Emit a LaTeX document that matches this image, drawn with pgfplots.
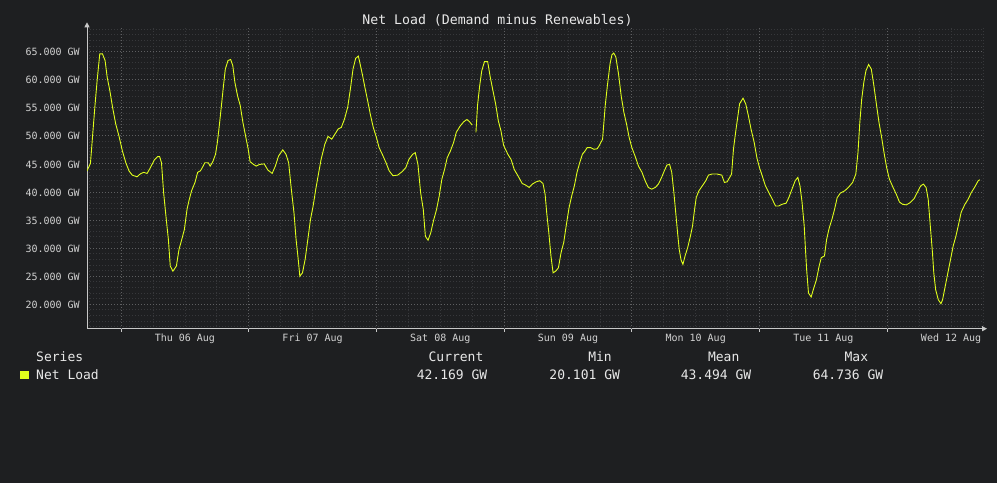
\documentclass[border=0pt]{standalone}
\usepackage{fontspec}
\setmainfont{DejaVu Sans Mono}
\usepackage{pgfplots}
\pgfplotsset{compat=1.18}
\usetikzlibrary{arrows.meta}
\definecolor{bg}{HTML}{1E1F21}
\definecolor{axisgray}{HTML}{C8C8C8}
\definecolor{majgrid}{HTML}{5E5F61}
\definecolor{mingrid}{HTML}{37383B}
\definecolor{ticktext}{HTML}{D2D2D2}
\definecolor{legtext}{HTML}{E8E8E8}
\definecolor{lineyellow}{HTML}{E0FF1C}
\begin{document}
\begin{tikzpicture}
\useasboundingbox (0pt,0pt) rectangle (997pt,483pt);
\fill[bg] (0pt,0pt) rectangle (997pt,483pt);
\begin{axis}[
  at={(87pt,154.3pt)}, anchor=south west,
  scale only axis, width=896pt, height=302.4pt,
  xmin=-6.4, xmax=162, ymin=15.65, ymax=69.5,
  axis x line=bottom, axis y line=left,
  x axis line style={draw=axisgray, line width=0.8pt, shorten >=-4pt, -{Triangle[length=5pt,width=5pt]}},
  y axis line style={draw=axisgray, line width=0.8pt, shorten >=-4pt, -{Triangle[length=5pt,width=5pt]}},
  xtick={12,36,60,84,108,132,156},
  xticklabels={Thu 06 Aug,Fri 07 Aug,Sat 08 Aug,Sun 09 Aug,Mon 10 Aug,Tue 11 Aug,Wed 12 Aug},
  ytick={20,25,30,35,40,45,50,55,60,65},
  yticklabels={20.000 GW,25.000 GW,30.000 GW,35.000 GW,40.000 GW,45.000 GW,50.000 GW,55.000 GW,60.000 GW,65.000 GW},
  minor xtick={-6,6,12,18,30,36,42,54,60,66,78,84,90,102,108,114,126,132,138,150,156,162},
  minor ytick={16,17,...,69},
  major tick length=0pt, minor tick length=0pt,
  xmajorgrids=false, xminorgrids=true,
  ymajorgrids=true, yminorgrids=true,
  extra x ticks={0,24,48,72,96,120,144},
  extra x tick labels={},
  extra x tick style={grid=major, major tick length=3pt, tick align=outside, tick style={draw=axisgray, line width=0.8pt}},
  major grid style={draw=majgrid, line width=0.8pt, dash pattern=on 1pt off 2pt},
  minor grid style={draw=mingrid, line width=0.8pt, dash pattern=on 1pt off 2pt},
  x tick label style={font=\fontsize{10}{12}\selectfont, text=ticktext, yshift=-2pt},
  y tick label style={font=\fontsize{10}{12}\selectfont, text=ticktext, xshift=-3.7pt, yshift=-0.5pt},
  unbounded coords=jump,
  clip=true,
]
\addplot[color=lineyellow, line width=0.9pt] coordinates {
(-6.4,43.75) (-5.75,45.1) (-5.25,51.2) (-4.9,55.4) (-4.5,59.8) (-4.0,64.6) (-3.5,64.6) (-3.0,63.4) (-2.6,60.4) (-2.1,58.0) (-1.6,55.1) (-1.0,52.1) (-0.4,50.0) (0.25,47.3) (0.9,45.2) (1.5,43.75) (2.1,43.0) (3.0,42.7) (3.6,43.2) (4.25,43.5) (4.9,43.3) (5.5,44.3) (6.25,45.7) (6.9,46.3) (7.25,46.3) (7.6,45.2) (8.0,39.9) (8.5,35.1) (8.9,31.5) (9.25,26.8) (9.75,25.9) (10.4,26.8) (10.9,29.8) (11.4,31.5) (11.9,33.3) (12.4,36.9) (12.75,38.4) (13.25,40.2) (13.9,41.7) (14.4,43.5) (14.9,43.75) (15.25,44.3) (15.75,45.2) (16.4,45.2) (16.75,44.6) (17.25,45.4) (17.75,46.7) (18.1,48.8) (18.5,52.1) (18.9,55.7) (19.25,58.9) (19.6,61.9) (20.1,63.4) (20.6,63.6) (21.0,62.5) (21.4,59.5) (21.9,57.1) (22.4,55.4) (22.9,52.4) (23.4,50.0) (23.9,47.6) (24.25,45.4) (24.9,44.9)
(25.4,44.6) (26.0,44.9) (26.9,45.0) (27.6,43.9) (28.4,43.3) (29.0,44.6) (29.6,46.4) (30.4,47.5) (31.0,46.7) (31.5,45.2) (32.0,40.5) (32.5,36.3) (32.9,31.5) (33.3,28.0) (33.6,25.0) (34.1,25.6) (34.6,28.0) (35.1,31.5) (35.6,35.1) (36.1,37.5) (36.6,40.5) (37.1,43.2) (37.6,45.8) (38.3,48.5) (38.9,49.9) (39.6,49.4) (40.2,50.3) (40.8,51.2) (41.4,51.5) (42.0,53.0) (42.6,55.1) (43.1,58.3) (43.6,61.9) (44.1,63.8) (44.6,64.2) (45.0,62.5) (45.4,60.7) (45.9,58.3) (46.4,56.0) (46.9,53.6) (47.4,51.5) (48.0,49.7) (48.5,47.9) (49.1,46.7) (49.8,45.2) (50.4,43.75) (51.1,42.9) (52.0,43.0) (52.8,43.6) (53.5,44.3) (54.1,45.8) (54.8,46.7) (55.3,47.0)
(55.8,44.9) (56.3,39.9) (56.8,36.9) (57.2,32.1) (57.7,31.4) (58.2,32.7) (58.7,34.8) (59.3,36.9) (59.8,39.3) (60.3,42.3) (60.8,44.0) (61.3,46.1) (61.9,47.3) (62.5,48.8) (63.0,50.6) (63.7,51.7) (64.4,52.5) (65.0,52.9) (65.5,52.5) (66.0,51.9)
(66.35,nan)
(66.7,50.6) (67.0,55.4) (67.4,58.9) (67.8,61.6) (68.3,63.2) (68.9,63.2) (69.4,60.4) (69.9,58.0) (70.4,55.7) (70.9,52.7) (71.4,50.9) (71.9,48.3) (72.7,46.7) (73.3,45.8) (73.9,44.0) (74.7,42.7) (75.4,41.5) (76.0,41.25) (76.7,40.8) (77.3,41.4) (78.0,41.8) (78.7,42.0) (79.3,41.5) (79.7,39.6) (80.0,36.3) (80.4,32.7) (80.8,28.6) (81.2,25.6) (81.7,25.9) (82.2,26.5) (82.7,29.2) (83.2,31.0) (83.7,34.2) (84.2,37.2) (84.7,39.3) (85.2,41.1) (85.7,43.5) (86.2,45.2) (86.7,46.7) (87.2,47.3)
(87.6,47.9) (88.25,47.9) (88.9,47.6) (89.5,47.7) (89.9,48.3) (90.5,49.4) (91.0,55.4) (91.4,58.9) (91.9,62.8) (92.25,64.4) (92.6,64.74) (93.0,64.0) (93.5,61.0) (94.0,57.1) (94.5,54.2) (95.0,52.1) (95.5,49.7) (96.0,47.9) (96.6,46.4) (97.25,44.6) (97.9,43.5) (98.5,42.0) (99.1,40.8) (99.75,40.5) (100.4,40.8) (101.0,41.4) (101.6,42.6) (102.1,43.75) (102.6,44.8) (103.1,44.9) (103.5,43.5) (103.9,39.9) (104.25,36.3) (104.6,32.7) (104.9,29.8) (105.25,27.9) (105.6,27.1) (106.0,28.6) (106.5,30.1) (107.0,32.1) (107.4,33.9) (107.75,36.6) (108.1,39.0) (108.6,40.2) (109.25,41.1) (109.9,42.0) (110.4,43.0) (111.1,43.2) (112.0,43.2) (112.9,43.0) (113.4,41.7) (113.9,41.8) (114.4,42.6) (114.75,43.2) (115.1,47.6) (115.5,50.6) (115.9,53.3) (116.25,55.7) (116.9,56.7) (117.4,55.7)
(117.9,53.6) (118.4,51.2) (119.0,48.8) (119.5,46.1) (120.0,44.3) (120.5,42.9) (121.1,41.1) (121.75,39.9) (122.4,38.7) (123.0,37.5) (123.6,37.5) (124.2,37.8) (125.0,38.0) (125.5,39.0) (126.1,40.5) (126.7,42.0) (127.2,42.6) (127.6,41.1) (128.0,38.1) (128.4,33.9) (128.6,30.4) (128.85,26.2) (129.2,22.0) (129.7,21.3) (130.2,22.9) (130.7,24.4) (131.2,26.8) (131.6,28.3) (132.2,28.6) (132.6,31.5) (133.1,33.6) (133.6,35.1) (134.1,36.9) (134.6,39.0) (135.2,39.8) (136.0,40.2) (136.7,40.8) (137.5,41.7) (138.1,43.2) (138.5,47.0) (138.85,52.4) (139.2,56.5) (139.6,59.5) (140.0,61.6) (140.5,62.7) (141.0,61.9) (141.45,59.2) (142.0,55.4) (142.45,52.4) (142.95,49.7) (143.45,46.7) (143.9,44.3) (144.4,42.3) (145.1,40.8) (145.7,39.6) (146.3,38.2) (146.9,37.8) (147.6,37.7) (148.3,38.1) (149.05,38.8)
(149.8,40.2) (150.3,41.1) (150.8,41.4) (151.3,40.8) (151.7,38.7) (152.1,33.9) (152.5,29.2) (152.75,25.6) (153.1,22.6) (153.6,20.8) (154.1,20.1) (154.4,20.8) (154.9,23.2) (155.4,25.6) (155.9,28.0) (156.4,30.4) (156.9,32.1) (157.4,34.2) (157.9,36.4) (158.6,37.8) (159.2,38.7) (159.8,39.9) (160.4,40.8) (161.1,42.0) (161.4,42.17)
};
\end{axis}
% title
\node[text=legtext, font=\fontsize{13.2}{15}\selectfont, inner sep=0pt] at (497.5pt,463pt) {Net Load (Demand minus Renewables)};
% legend table
\begin{scope}[every node/.style={text=legtext, font=\fontsize{13}{15}\selectfont, inner sep=0pt}]
\node[anchor=west] at (36pt,126.2pt) {Series};
\fill[lineyellow] (20pt,104pt) rectangle (29pt,112.3pt);
\node[anchor=west] at (36pt,108.2pt) {Net Load};
\node at (456pt,126.2pt) {Current};
\node at (452pt,108.2pt) {42.169 GW};
\node at (600pt,126.2pt) {Min};
\node at (584.7pt,108.2pt) {20.101 GW};
\node at (723.7pt,126.2pt) {Mean};
\node at (716pt,108.2pt) {43.494 GW};
\node at (856.4pt,126.2pt) {Max};
\node at (848pt,108.2pt) {64.736 GW};
\end{scope}
\end{tikzpicture}
\end{document}
